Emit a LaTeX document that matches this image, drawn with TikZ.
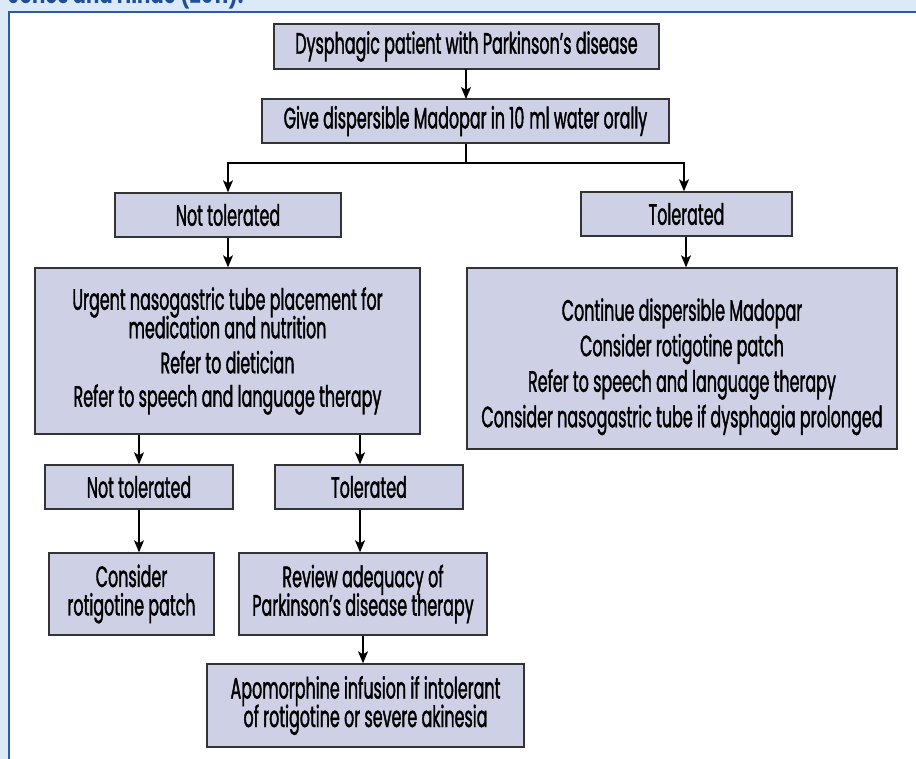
\documentclass[tikz,border=0pt]{standalone}
\usepackage{fontspec}
\setmainfont{Poppins}[FakeStretch=0.54,FakeBold=1.3]
\newfontfamily\titlefont{Poppins}[FakeStretch=0.73,BoldFont={Poppins Bold}]
\usetikzlibrary{arrows.meta}
\definecolor{framebg}{HTML}{DCE9F6}
\definecolor{frameline}{HTML}{2A5C9E}
\definecolor{boxfill}{HTML}{CED1E5}
\definecolor{boxline}{HTML}{333333}
\definecolor{titleblue}{HTML}{1E4E94}
\newdimen\mylsl
\mylsl=-20pt
\newcommand\myboxfont{\fontsize{29.5}{28.5}\selectfont\lineskiplimit=\mylsl}
\tikzset{
  fbox/.style={draw=boxline, line width=1.4pt, fill=boxfill, inner sep=0pt, align=center,
    font=\myboxfont},
  conn/.style={line width=1.3pt, draw=black, -{Stealth[length=12pt,width=10pt,inset=3pt]}},
  plain/.style={line width=1.3pt, draw=black},
}
\begin{document}
\begin{tikzpicture}[x=1pt,y=-1pt]
\useasboundingbox (0,0) rectangle (916,759);
\fill[framebg] (0,0) rectangle (916,759);
\begin{scope}
\clip (0,0) rectangle (916,759);
\node[anchor=base west, inner sep=0pt, text=titleblue, font=\titlefont\bfseries\fontsize{27}{27}\selectfont] (title) at (8,3.5) {Jones and Hinde (2011).};
\filldraw[fill=white, draw=frameline, line width=2pt] (9,12) rectangle (930,780);
\end{scope}

\node[fbox, minimum width=385pt, minimum height=45pt] (b1) at (466.5,46.5) {Dysphagic patient with Parkinson’s disease};
\node[fbox, minimum width=407pt, minimum height=44pt] (b2) at (465.5,121) {Give dispersible Madopar in 10\,ml water orally};
\node[fbox, minimum width=226pt, minimum height=44pt] (nt1) at (228,215) {Not tolerated};
\node[fbox, minimum width=211pt, minimum height=44pt] (t1) at (686.5,214) {Tolerated};
\node[fbox, minimum width=385pt, minimum height=166pt] (bl) at (227.5,351) {Urgent nasogastric tube placement for\\medication and nutrition\\[6.5pt]Refer to dietician\\[5pt]Refer to speech and language therapy};
\node[fbox, minimum width=430pt, minimum height=181pt] (br) at (682,358.5) {\rule{0pt}{39pt}Continue dispersible Madopar\\[7pt]Consider rotigotine patch\\[7pt]Refer to speech and language therapy\\[7pt]Consider nasogastric tube if dysphagia prolonged};
\node[fbox, minimum width=188pt, minimum height=44pt] (nt2) at (139,487) {Not tolerated};
\node[fbox, minimum width=188pt, minimum height=44pt] (t2) at (369,487) {Tolerated};
\node[fbox, minimum width=165pt, minimum height=82pt] (cons) at (131.5,594) {Consider\\rotigotine patch};
\node[fbox, minimum width=248pt, minimum height=82pt] (rev) at (363,594) {Review adequacy of\\Parkinson’s disease therapy};
\node[fbox, minimum width=317pt, minimum height=83pt] (apo) at (365.5,705.5) {Apomorphine infusion if intolerant\\of rotigotine or severe akinesia};

\coordinate (split) at (466,163);
\coordinate (tcol) at (360,0);

\draw[conn] (466,69) -- (466,99);
\draw[plain] (b2.south -| split) -- (split);
\draw[conn] (split) -| (nt1.north);
\draw[conn] (split) -| ([xshift=-2.5pt]t1.north);
\draw[conn] (nt1.south) -- (nt1.south |- bl.north);
\draw[conn] ([xshift=-0.5pt]t1.south) -- ([xshift=-0.5pt]t1.south |- br.north);
\draw[conn] (bl.south -| nt2.north) -- (nt2.north);
\draw[conn] (bl.south -| tcol) -- (t2.north -| tcol);
\draw[conn] (nt2.south) -- (nt2.south |- cons.north);
\draw[conn] (t2.south -| tcol) -- (rev.north -| tcol);
\draw[conn] (rev.south) -- (rev.south |- apo.north);
\end{tikzpicture}
\end{document}
